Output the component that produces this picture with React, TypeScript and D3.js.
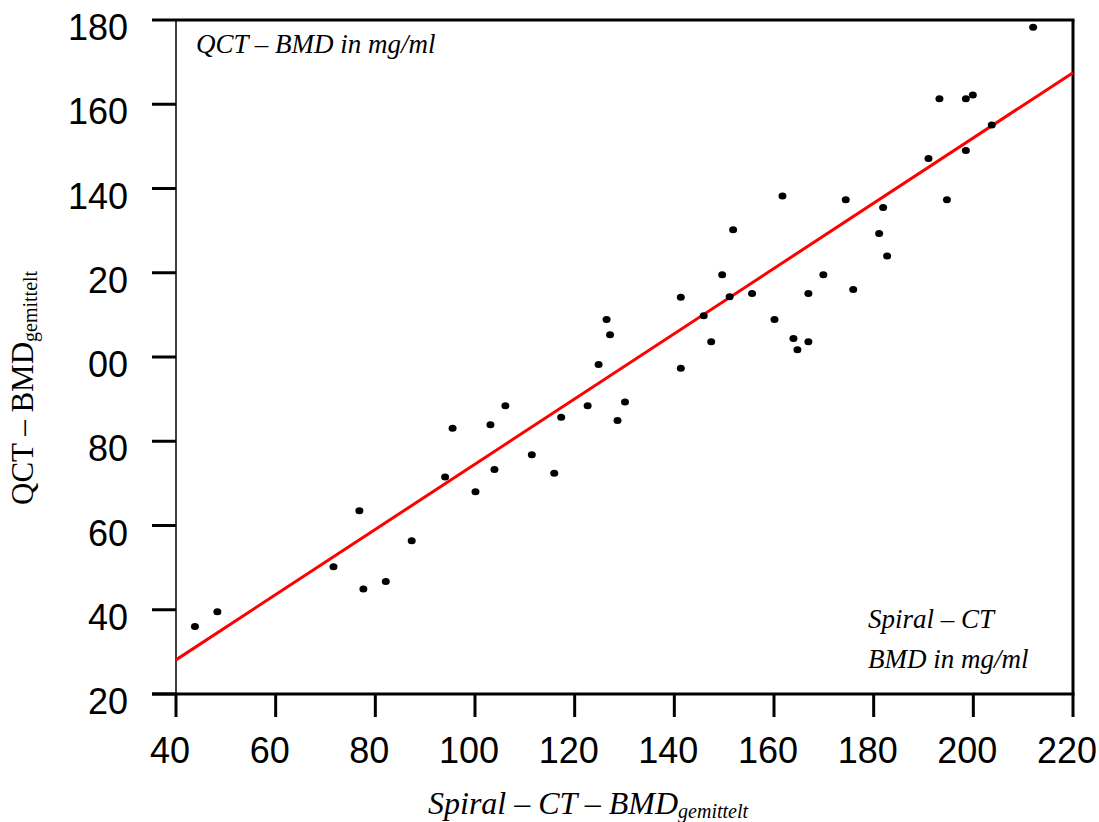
import React from 'react';
import * as d3 from 'd3';

// Spiral-CT BMD (x) against QCT BMD (y), both mg/ml
const spiralCT = [
  43.8, 48.3, 71.6, 76.8, 77.6, 82.1, 87.3, 94.0, 95.5, 100.1,
  103.1, 103.9, 106.1, 111.4, 115.9, 117.3, 122.6, 124.8, 127.1, 128.6,
  130.1, 126.4, 141.3, 141.3, 145.9, 147.4, 149.6, 151.1, 151.8, 155.6,
  160.1, 161.7, 163.9, 164.7, 166.9, 166.9, 169.9, 174.4, 175.9, 181.9,
  181.1, 182.7, 191.0, 194.7, 193.2, 198.5, 199.9, 198.5, 203.7, 212.0,
];
const qct = [
  36.0, 39.5, 50.2, 63.5, 44.9, 46.7, 56.4, 71.5, 83.1, 68.0,
  83.9, 73.3, 88.4, 76.8, 72.4, 85.7, 88.4, 98.2, 105.3, 84.9,
  89.3, 108.9, 114.2, 97.3, 109.8, 103.6, 119.5, 114.3, 130.2, 115.1,
  108.9, 138.2, 104.4, 101.7, 103.6, 115.1, 119.5, 137.3, 116.0, 135.5,
  129.3, 124.0, 147.1, 137.3, 161.3, 161.3, 162.2, 149.0, 155.1, 178.3,
];

// regression line end points
const fitX = [40, 220];
const fitY = [28.1, 167.5];

const xTicks = [40, 60, 80, 100, 120, 140, 160, 180, 200, 220];
const yTicks = [20, 40, 60, 80, 100, 120, 140, 160, 180];
const yTickLabels = ['20', '40', '60', '80', '00', '20', '140', '160', '180'];

const W = 1099;
const H = 822;
const left = 176;
const right = 1073;
const top = 20;
const bottom = 694;

const serif = '"Liberation Serif", "Times New Roman", serif';
const sans = '"Liberation Sans", Arial, sans-serif';

export default function App() {
  const x = d3.scaleLinear().domain([40, 220]).range([left, right]);
  const y = d3.scaleLinear().domain([20, 180]).range([bottom, top]);

  const fit = d3
    .line<number>()
    .x((d) => x(d))
    .y((d, i) => y(fitY[i]));

  return (
    <svg
      width={W}
      height={H}
      style={{ position: 'absolute', left: 0, top: 0, background: '#fff' }}
    >
      {/* frame */}
      <line x1={left} x2={left} y1={top} y2={bottom} stroke="#000" strokeWidth={1.5} />
      <line x1={left} x2={right + 1.5} y1={top} y2={top} stroke="#000" strokeWidth={3} />
      <line x1={right} x2={right} y1={top} y2={bottom} stroke="#000" strokeWidth={3} />
      <line x1={left - 24} x2={right + 1.5} y1={bottom} y2={bottom} stroke="#000" strokeWidth={3} />

      {/* y ticks */}
      {yTicks.map((t, i) => (
        <g key={'y' + t}>
          <line x1={left - 24} x2={left} y1={y(t)} y2={y(t)} stroke="#000" strokeWidth={3} />
          <text
            x={128}
            y={y(t) + 20}
            textAnchor="end"
            fontFamily={sans}
            fontSize={36}
          >
            {yTickLabels[i]}
          </text>
        </g>
      ))}

      {/* x ticks */}
      {xTicks.map((t) => (
        <g key={'x' + t}>
          <line x1={x(t)} x2={x(t)} y1={bottom} y2={bottom + 23} stroke="#000" strokeWidth={3} />
          <text x={x(t) - 6} y={763} textAnchor="middle" fontFamily={sans} fontSize={36}>
            {t}
          </text>
        </g>
      ))}

      {/* regression line */}
      <path d={fit(fitX) || ''} fill="none" stroke="#ff0000" strokeWidth={3} />

      {/* points */}
      {spiralCT.map((v, i) => (
        <ellipse key={i} cx={x(v)} cy={y(qct[i])} rx={4} ry={3.5} fill="#000" />
      ))}

      {/* annotations */}
      <text x={196} y={53} fontFamily={serif} fontStyle="italic" fontSize={27}>
        QCT – BMD in mg/ml
      </text>
      <text x={868} y={628} fontFamily={serif} fontStyle="italic" fontSize={27}>
        Spiral – CT
      </text>
      <text x={868} y={668} fontFamily={serif} fontStyle="italic" fontSize={27}>
        BMD in mg/ml
      </text>

      {/* axis titles */}
      <text x={428} y={814} fontFamily={serif} fontStyle="italic" fontSize={32}>
        Spiral – CT – BMD
        <tspan fontSize={20} dy={4}>gemittelt</tspan>
      </text>
      <text
        transform="translate(33,505) rotate(-90)"
        fontFamily={serif}
        fontSize={31}
      >
        QCT – BMD
        <tspan fontSize={20} dy={4}>gemittelt</tspan>
      </text>
    </svg>
  );
}
